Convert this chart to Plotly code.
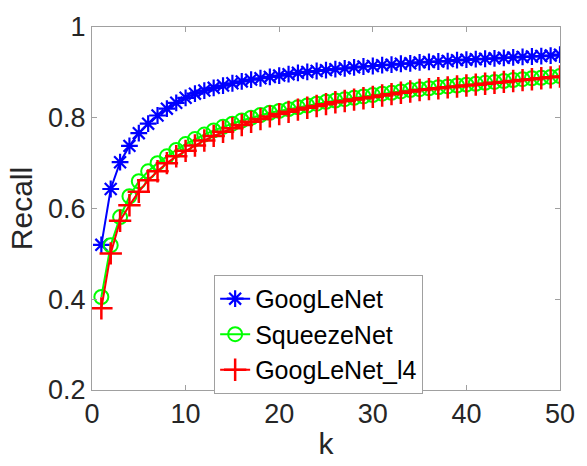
import plotly.graph_objects as go

k = list(range(1, 51))

googlenet = [0.520, 0.643, 0.702, 0.738, 0.766, 0.787, 0.805, 0.820, 0.833, 0.844,
             0.853, 0.860, 0.866, 0.871, 0.876, 0.880, 0.884, 0.887, 0.890, 0.893,
             0.896, 0.899, 0.901, 0.903, 0.905, 0.907, 0.909, 0.911, 0.913, 0.914,
             0.916, 0.917, 0.919, 0.920, 0.922, 0.923, 0.924, 0.925, 0.927, 0.928,
             0.929, 0.930, 0.931, 0.932, 0.933, 0.934, 0.935, 0.936, 0.937, 0.939]

squeezenet = [0.405, 0.519, 0.581, 0.627, 0.660, 0.682, 0.700, 0.715, 0.729, 0.742,
              0.753, 0.763, 0.772, 0.780, 0.787, 0.794, 0.800, 0.806, 0.811, 0.815,
              0.819, 0.823, 0.827, 0.831, 0.835, 0.838, 0.841, 0.844, 0.847, 0.850,
              0.853, 0.855, 0.858, 0.861, 0.863, 0.865, 0.867, 0.869, 0.871, 0.873,
              0.875, 0.877, 0.879, 0.881, 0.883, 0.885, 0.887, 0.888, 0.890, 0.892]

googlenet_l4 = [0.380, 0.501, 0.573, 0.607, 0.637, 0.662, 0.682, 0.700, 0.715, 0.727,
                0.739, 0.750, 0.760, 0.769, 0.777, 0.784, 0.791, 0.797, 0.803, 0.808,
                0.813, 0.818, 0.822, 0.826, 0.830, 0.834, 0.837, 0.840, 0.843, 0.846,
                0.849, 0.852, 0.855, 0.858, 0.861, 0.863, 0.865, 0.867, 0.869, 0.871,
                0.873, 0.875, 0.877, 0.879, 0.881, 0.883, 0.885, 0.887, 0.889, 0.891]

x_ticks = [0, 10, 20, 30, 40, 50]
y_ticks = [0.2, 0.4, 0.6, 0.8, 1.0]
y_ticklabels = ["0.2", "0.4", "0.6", "0.8", "1"]

FONT = "Liberation Sans, Arial, sans-serif"

fig = go.Figure()
fig.add_trace(go.Scatter(
    x=k, y=googlenet, name="GoogLeNet", mode="lines+markers",
    line=dict(color="#0000ff", width=2),
    marker=dict(symbol="asterisk-open", size=14, color="#0000ff",
                line=dict(color="#0000ff", width=2.2))))
fig.add_trace(go.Scatter(
    x=k, y=squeezenet, name="SqueezeNet", mode="lines+markers",
    line=dict(color="#00ff00", width=2),
    marker=dict(symbol="circle-open", size=14, color="#00ff00",
                line=dict(color="#00ff00", width=2))))
fig.add_trace(go.Scatter(
    x=k, y=googlenet_l4, name="GoogLeNet_l4", mode="lines+markers",
    line=dict(color="#ff0000", width=2),
    marker=dict(symbol="cross-thin-open", size=16, color="#ff0000",
                line=dict(color="#ff0000", width=2.5))))

axis_common = dict(
    showline=True, linecolor="#a0a0a0", linewidth=1, mirror="ticks",
    ticks="inside", ticklen=5, tickcolor="#a0a0a0", showgrid=False,
    zeroline=False, tickfont=dict(family=FONT, size=27, color="#262626"),
)

fig.update_xaxes(range=[0, 50], tickvals=x_ticks,
                 title=dict(text="k", font=dict(family=FONT, size=30, color="#262626"), standoff=4),
                 **axis_common)
fig.update_yaxes(range=[0.2, 1], tickvals=y_ticks, ticktext=y_ticklabels,
                 title=dict(text="Recall", font=dict(family=FONT, size=30, color="#262626"), standoff=6),
                 **axis_common)

fig.update_layout(
    width=587, height=466,
    margin=dict(l=92, r=16, t=18, b=76),
    paper_bgcolor="white", plot_bgcolor="white",
    font=dict(family=FONT, color="#262626"),
    legend=dict(x=0.261, y=0.317, xanchor="left", yanchor="top",
                bgcolor="white", bordercolor="#a0a0a0", borderwidth=1,
                font=dict(family=FONT, size=25, color="black"),
                tracegroupgap=0, itemwidth=30),
)

fig.write_html("out.html")
